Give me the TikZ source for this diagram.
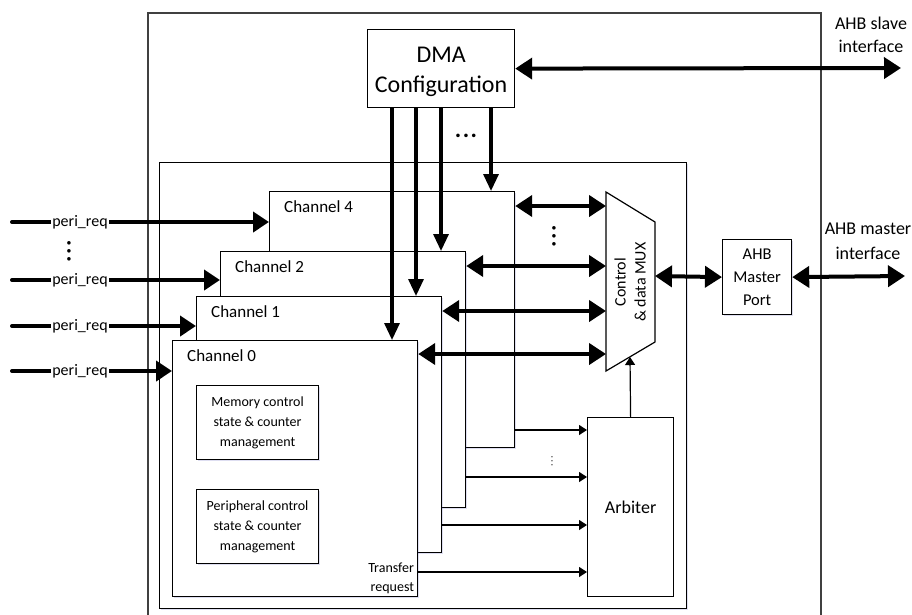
\documentclass[tikz,border=0pt]{standalone}
\usepackage{fontspec}
\setmainfont{Carlito}
\usetikzlibrary{arrows.meta,positioning,calc,shadows}
\newcommand{\sdots}{.\kern1.5pt.\kern1.5pt.}
\tikzset{
  softshadow/.style={drop shadow={shadow xshift=1.5pt,shadow yshift=-1.5pt,fill=blue!40!gray,opacity=.18}},
  blk/.style={draw,line width=1.2pt,fill=white,anchor=north west,inner sep=0pt,align=center},
  chbox/.style={blk,softshadow,minimum width=245pt,minimum height=256pt},
  subbox/.style={blk,softshadow,minimum width=122pt,minimum height=74pt,font=\fontsize{14}{20}\selectfont},
  frame/.style={draw=black!75,line width=1.4pt},
  bus/.style={{Triangle[length=17pt,width=21pt]}-{Triangle[length=17pt,width=21pt]},line width=4pt},
  cfg/.style={-{Triangle[length=17pt,width=15pt]},line width=3.2pt},
  req/.style={-{Triangle[length=16pt,width=20pt]},line width=4pt,line cap=round},
  sig/.style={-{Triangle[length=8pt,width=10pt]},line width=1.2pt},
}

\begin{document}
\begin{tikzpicture}[x=1pt,y=-1pt,
  lab/.style={inner sep=0pt,align=center},
  chlab/.style={font=\fontsize{17}{20}\selectfont,anchor=west,inner sep=0pt},
  reqlab/.style={lab,fill=white,inner xsep=1pt,font=\fontsize{16}{18}\selectfont},
  bigdots/.style={lab,font=\bfseries\fontsize{24}{24}\selectfont}]
  \useasboundingbox (0,0) rectangle (912,614);
  % enclosing blocks
  \draw[frame] (148,620) -- (148,13) -- (821,13) -- (821,620);
  \node[blk,softshadow,minimum width=527pt,minimum height=446pt] (core) at (159,162) {};
  \node[blk,minimum width=147pt,minimum height=78pt] (dma) at (367,29) {};
  \node[lab,font=\fontsize{24}{30}\selectfont] (dmatxt) at ([yshift=-3pt]dma.center) {DMA\\Configuration};
  % channels, back to front
  \foreach \n/\x/\y in {4/269/191,2/220/251,1/196/296,0/172/340}{
    \node[chbox] (ch\n) at (\x,\y) {};
    \node[chlab] at ([xshift=15pt,yshift=-16pt]ch\n.north west) {Channel \n};
  }
  \node[subbox] (memctl) at (196,385) {Memory control\\state \& counter\\management};
  \node[subbox] (perctl) at (196,489) {Peripheral control\\state \& counter\\management};
  \node[lab,align=right,anchor=south east,font=\fontsize{14}{19}\selectfont] (treq) at ([xshift=-4pt,yshift=3pt]ch0.south east) {Transfer\\request};
  % arbiter, mux and master port
  \node[blk,minimum width=86pt,minimum height=179pt,font=\fontsize{18}{20}\selectfont] (arb) at (587,417) {Arbiter};
  \draw[line width=1.2pt,fill=white] (606,192) -- (655,222) -- (655,342) -- (606,371) -- cycle;
  \node[lab,rotate=90,font=\fontsize{16}{20}\selectfont] (muxtxt) at (630,282) {Control\\\& data MUX};
  \node[blk,softshadow,minimum width=69pt,minimum height=75pt,font=\fontsize{16.5}{23}\selectfont] (port) at (722,239) {AHB\\Master\\Port};
  \node[lab,font=\fontsize{18}{23}\selectfont] (slvlab) at (871,35) {AHB slave\\interface};
  \node[lab,font=\fontsize{18}{25}\selectfont] (mstlab) at (868,241) {AHB master\\interface};
  \coordinate (slv) at (901,68);
  \coordinate (mst) at (905,276);
  % configuration paths
  \draw[bus] (dma.east) -- (slv);
  \foreach \dx/\ch in {25/ch0,49/ch1,74/ch2,124/ch4}
    \draw[cfg] ([xshift=\dx]dma.south west) -- ([xshift=\dx]dma.south west |- \ch.north);
  \node[bigdots] (cfgdots) at (466,136) {\sdots};
  % peripheral requests
  \foreach \y/\ch in {222/ch4,280/ch2,326/ch1,371/ch0}{
    \coordinate (req\ch) at (12,\y);
    \draw[req] (req\ch) -- (\ch.west |- req\ch);
    \node[reqlab] at (80,\y) {peri\_req};
  }
  \node[bigdots,rotate=90] (reqdots) at (69,251) {\sdots};
  % data paths to the mux
  \foreach \y/\ch in {206/ch4,266/ch2,311/ch1,354/ch0}{
    \coordinate (mux\ch) at (606,\y);
    \draw[bus] (\ch.east |- mux\ch) -- (mux\ch);
  }
  \node[bigdots,rotate=90] (busdots) at (554,236) {\sdots};
  \coordinate (muxout) at (655,276);
  \draw[bus] (muxout) -- (port.west);
  \draw[bus] (port.east) -- (mst);
  % transfer requests to the arbiter
  \foreach \y/\ch in {430/ch4,477/ch2,525/ch1,572/ch0}
    \draw[sig] (\ch.east |- 0,\y) -- (arb.west |- 0,\y);
  \node[lab,rotate=90,font=\fontsize{10}{10}\selectfont] (sigdots) at (552,461) {.\kern1.5pt.\kern1.5pt.};
  \coordinate (muxin) at (630,357);
  \draw[sig] (arb.north) -- (muxin);
\end{tikzpicture}
\end{document}
